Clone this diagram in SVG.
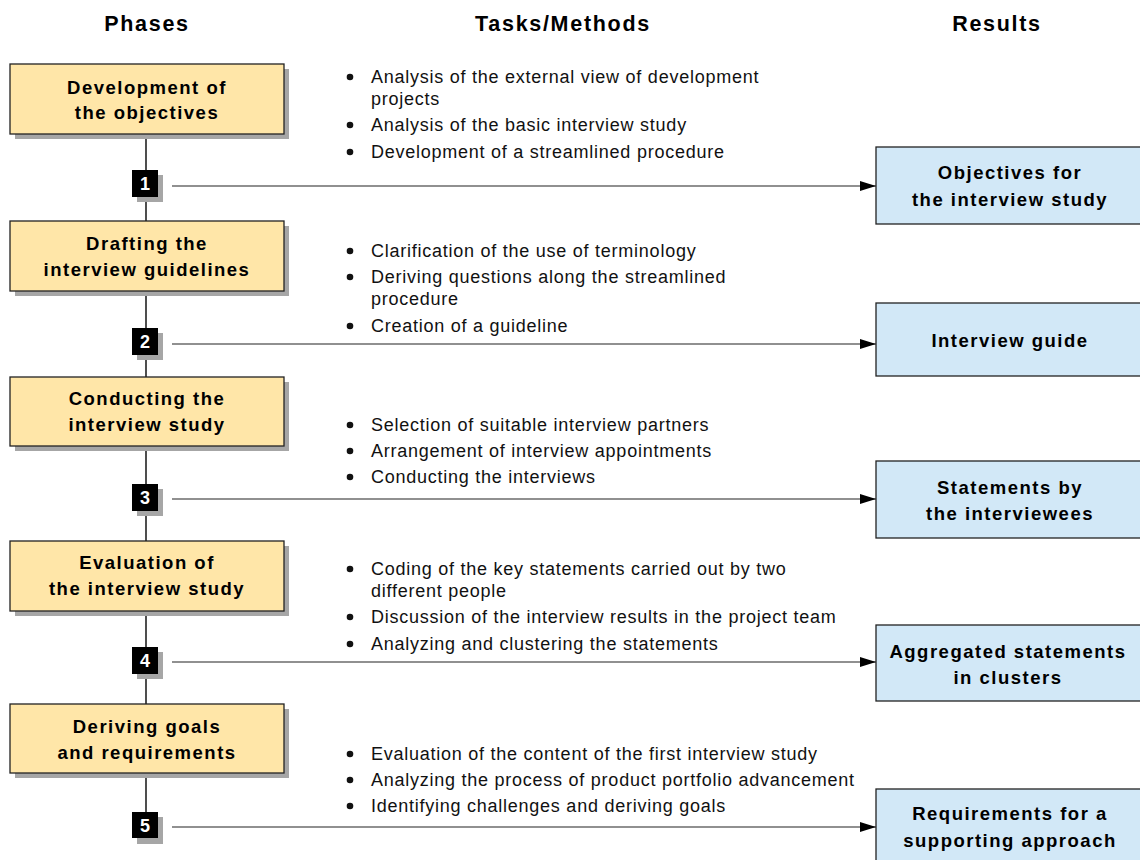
<svg xmlns="http://www.w3.org/2000/svg" width="1140" height="860" viewBox="0 0 1140 860">
<style>
.hdr{font-family:"Liberation Sans",Arial,sans-serif;font-weight:bold;font-size:21.5px;letter-spacing:1.7px;fill:#000;text-anchor:middle}
.ph{fill:#FFE6A8;stroke:#222;stroke-width:1.3}
.res{fill:#D2E8F7;stroke:#222;stroke-width:1.3}
.sh{fill:#A6A6A6}
.bt{font-family:"Liberation Sans",Arial,sans-serif;font-weight:bold;font-size:18.5px;letter-spacing:1.5px;fill:#000;text-anchor:middle}
.tx{font-family:"Liberation Sans",Arial,sans-serif;font-size:18px;letter-spacing:0.75px;fill:#111}
.dot{fill:#111}
.num{fill:#000}
.nt{font-family:"Liberation Sans",Arial,sans-serif;font-weight:bold;font-size:18px;fill:#fff;text-anchor:middle}
.ln{stroke:#222;stroke-width:1.6;fill:none}
.ar{stroke:#222;stroke-width:1.1;fill:none;marker-end:url(#ah)}
</style>
<defs>
<marker id="ah" markerWidth="16" markerHeight="10" refX="16" refY="5" orient="auto" markerUnits="userSpaceOnUse">
<path d="M0,0 L16,5 L0,10 Z" fill="#000"/>
</marker>
</defs>
<rect width="1140" height="860" fill="#fff"/>
<text class="hdr" x="147" y="31">Phases</text>
<text class="hdr" x="563" y="31">Tasks/Methods</text>
<text class="hdr" x="997" y="31">Results</text>

<g id="connectors">
<line class="ln" x1="146" y1="134" x2="146" y2="221"/>
<line class="ln" x1="146" y1="291" x2="146" y2="377"/>
<line class="ln" x1="146" y1="446" x2="146" y2="541"/>
<line class="ln" x1="146" y1="611" x2="146" y2="704"/>
<line class="ln" x1="146" y1="773" x2="146" y2="812"/>
<line class="ar" x1="172" y1="186" x2="876" y2="186"/>
<line class="ar" x1="172" y1="344" x2="876" y2="344"/>
<line class="ar" x1="172" y1="499" x2="876" y2="499"/>
<line class="ar" x1="172" y1="662" x2="876" y2="662"/>
<line class="ar" x1="172" y1="827" x2="876" y2="827"/>
</g>

<g id="phase1"><rect class="sh" x="15" y="69" width="274" height="70"/><rect class="ph" x="10" y="64" width="274" height="70"/>
<text class="bt" x="147" y="94">Development of</text><text class="bt" x="147" y="119">the objectives</text></g>
<g id="phase2"><rect class="sh" x="15" y="226" width="274" height="70"/><rect class="ph" x="10" y="221" width="274" height="70"/>
<text class="bt" x="147" y="250">Drafting the</text><text class="bt" x="147" y="276">interview guidelines</text></g>
<g id="phase3"><rect class="sh" x="15" y="382" width="274" height="69"/><rect class="ph" x="10" y="377" width="274" height="69"/>
<text class="bt" x="147" y="405">Conducting the</text><text class="bt" x="147" y="431">interview study</text></g>
<g id="phase4"><rect class="sh" x="15" y="546" width="274" height="70"/><rect class="ph" x="10" y="541" width="274" height="70"/>
<text class="bt" x="147" y="569">Evaluation of</text><text class="bt" x="147" y="595">the interview study</text></g>
<g id="phase5"><rect class="sh" x="15" y="709" width="274" height="69"/><rect class="ph" x="10" y="704" width="274" height="69"/>
<text class="bt" x="147" y="733">Deriving goals</text><text class="bt" x="147" y="759">and requirements</text></g>

<g id="n1"><rect class="sh" x="137" y="175" width="26" height="27"/><rect class="num" x="132" y="170" width="26" height="27"/><text class="nt" x="145" y="190">1</text></g>
<g id="n2"><rect class="sh" x="137" y="333" width="26" height="27"/><rect class="num" x="132" y="328" width="26" height="27"/><text class="nt" x="145" y="348">2</text></g>
<g id="n3"><rect class="sh" x="137" y="489" width="26" height="27"/><rect class="num" x="132" y="484" width="26" height="27"/><text class="nt" x="145" y="504">3</text></g>
<g id="n4"><rect class="sh" x="137" y="652" width="26" height="27"/><rect class="num" x="132" y="647" width="26" height="27"/><text class="nt" x="145" y="667">4</text></g>
<g id="n5"><rect class="sh" x="137" y="817" width="26" height="27"/><rect class="num" x="132" y="812" width="26" height="26"/><text class="nt" x="145" y="832">5</text></g>

<g id="tasks1" class="tx">
<circle class="dot" cx="350" cy="77" r="3.3"/><text x="371" y="83">Analysis of the external view of development</text>
<text x="371" y="105">projects</text>
<circle class="dot" cx="350" cy="125" r="3.3"/><text x="371" y="131">Analysis of the basic interview study</text>
<circle class="dot" cx="350" cy="152" r="3.3"/><text x="371" y="158">Development of a streamlined procedure</text>
</g>
<g id="tasks2" class="tx">
<circle class="dot" cx="350" cy="251" r="3.3"/><text x="371" y="257">Clarification of the use of terminology</text>
<circle class="dot" cx="350" cy="277" r="3.3"/><text x="371" y="283">Deriving questions along the streamlined</text>
<text x="371" y="305">procedure</text>
<circle class="dot" cx="350" cy="326" r="3.3"/><text x="371" y="332">Creation of a guideline</text>
</g>
<g id="tasks3" class="tx">
<circle class="dot" cx="350" cy="425" r="3.3"/><text x="371" y="431">Selection of suitable interview partners</text>
<circle class="dot" cx="350" cy="451" r="3.3"/><text x="371" y="457">Arrangement of interview appointments</text>
<circle class="dot" cx="350" cy="477" r="3.3"/><text x="371" y="483">Conducting the interviews</text>
</g>
<g id="tasks4" class="tx">
<circle class="dot" cx="350" cy="569" r="3.3"/><text x="371" y="575">Coding of the key statements carried out by two</text>
<text x="371" y="597">different people</text>
<circle class="dot" cx="350" cy="617" r="3.3"/><text x="371" y="623">Discussion of the interview results in the project team</text>
<circle class="dot" cx="350" cy="644" r="3.3"/><text x="371" y="650">Analyzing and clustering the statements</text>
</g>
<g id="tasks5" class="tx">
<circle class="dot" cx="350" cy="754" r="3.3"/><text x="371" y="760">Evaluation of the content of the first interview study</text>
<circle class="dot" cx="350" cy="780" r="3.3"/><text x="371" y="786">Analyzing the process of product portfolio advancement</text>
<circle class="dot" cx="350" cy="806" r="3.3"/><text x="371" y="812">Identifying challenges and deriving goals</text>
</g>

<g id="result1"><rect class="res" x="876" y="147" width="268" height="77"/>
<text class="bt" x="1010" y="179">Objectives for</text><text class="bt" x="1010" y="206">the interview study</text></g>
<g id="result2"><rect class="res" x="876" y="303" width="268" height="73"/>
<text class="bt" x="1010" y="347">Interview guide</text></g>
<g id="result3"><rect class="res" x="876" y="461" width="268" height="77"/>
<text class="bt" x="1010" y="494">Statements by</text><text class="bt" x="1010" y="520">the interviewees</text></g>
<g id="result4"><rect class="res" x="876" y="625" width="268" height="76"/>
<text class="bt" x="1008" y="658">Aggregated statements</text><text class="bt" x="1008" y="684">in clusters</text></g>
<g id="result5"><rect class="res" x="876" y="789" width="268" height="80"/>
<text class="bt" x="1010" y="820">Requirements for a</text><text class="bt" x="1010" y="847">supporting approach</text></g>
</svg>
